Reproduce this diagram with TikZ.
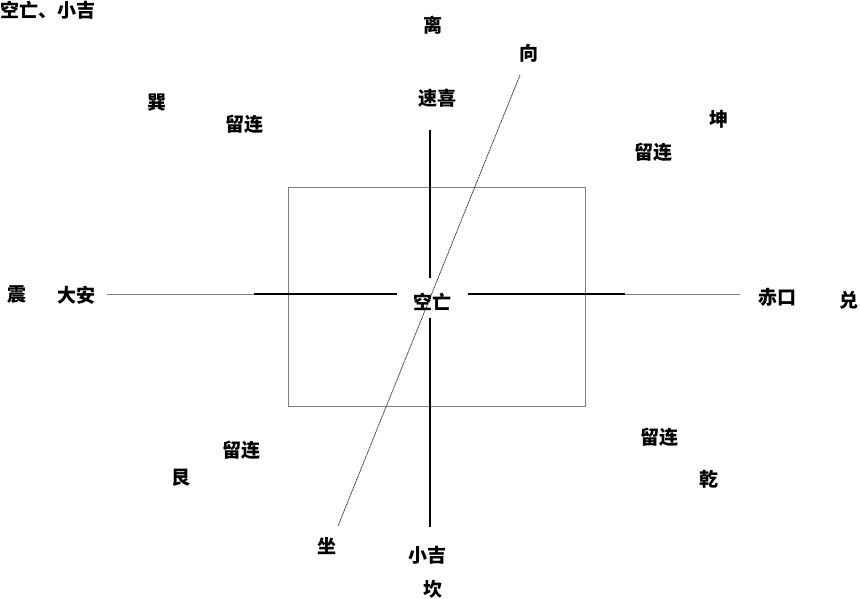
\documentclass[tikz,border=0pt]{standalone}
\usepackage{fontspec}
\newfontfamily\cjk{Noto Sans CJK SC}
\begin{document}
\begin{tikzpicture}[x=1pt,y=-1pt,
  lbl/.style={font=\cjk\fontsize{19}{19}\selectfont\bfseries, inner sep=0pt},
  thinl/.style={draw=black!50, line width=0.7pt},
  bold/.style={draw=black, line width=1.4pt},
  diag/.style={draw=black!80, line width=0.8pt, dash pattern=on 1.2pt off 0.6pt}]
\useasboundingbox[fill=white] (0,0) rectangle (860,599);
% labels
\node[lbl, anchor=west] (title) at (0,10) {空亡、小吉};
\node[lbl] (li) at (433,25) {离};
\node[lbl] (xiang) at (529,53) {向};
\node[lbl] (suxi) at (437,98) {速喜};
\node[lbl] (xun) at (157,103) {巽};
\node[lbl] (ll1) at (244,124) {留连};
\node[lbl] (kun) at (719,119) {坤};
\node[lbl] (ll2) at (653,152) {留连};
\node[lbl] (zhen) at (17,295) {震};
\node[lbl] (daan) at (76,295) {大安};
\node[lbl] (kongwang) at (432,302) {空亡};
\node[lbl] (chikou) at (777,297) {赤口};
\node[lbl] (dui) at (849,300) {兑};
\node[lbl] (ll3) at (241,450) {留连};
\node[lbl] (gen) at (181,478) {艮};
\node[lbl] (ll4) at (659,437) {留连};
\node[lbl] (qian) at (709,479) {乾};
\node[lbl] (zuo) at (327,546) {坐};
\node[lbl] (xiaoji) at (427,555) {小吉};
\node[lbl] (kan) at (433,589) {坎};
% coordinates
\coordinate (vt) at (430,130);
\coordinate (vtm) at (430,278);
\coordinate (vbm) at (430,318);
\coordinate (vb) at (430,527);
\coordinate (hl) at (107,294);
\coordinate (hlm) at (254,294);
\coordinate (hlc) at (397,294);
\coordinate (hrc) at (468,294);
\coordinate (hrm) at (625,294);
\coordinate (hr) at (740,294);
\coordinate (dt) at (520,75);
\coordinate (db) at (338,526);
\coordinate (r1) at (288,187);
\coordinate (r2) at (585,406);
% box
\draw[thinl] (r1) rectangle (r2);
% axes
\draw[thinl] (hl) -- (hlm);
\draw[bold] (hlm) -- (hlc);
\draw[bold] (hrc) -- (hrm);
\draw[thinl] (hrm) -- (hr);
\draw[bold] (vt) -- (vtm);
\draw[bold] (vbm) -- (vb);
% direction line
\draw[diag] (dt) -- (db);
\end{tikzpicture}
\end{document}
